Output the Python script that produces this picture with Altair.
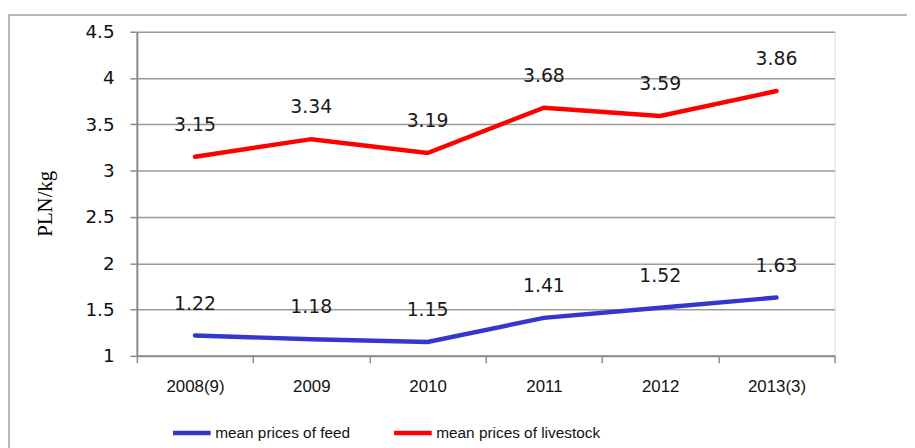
import altair as alt
import pandas as pd

years = ["2008(9)", "2009", "2010", "2011", "2012", "2013(3)"]
feed = [1.22, 1.18, 1.15, 1.41, 1.52, 1.63]
livestock = [3.15, 3.34, 3.19, 3.68, 3.59, 3.86]
series_names = ["mean prices of feed", "mean prices of livestock"]
series_colors = ["#3535cf", "#ff0000"]
y_ticks = [1, 1.5, 2, 2.5, 3, 3.5, 4, 4.5]

rows = []
for i, y in enumerate(years):
    rows.append({"year": y, "series": series_names[0], "value": feed[i], "order": i})
    rows.append({"year": y, "series": series_names[1], "value": livestock[i], "order": i})
df = pd.DataFrame(rows)

FONT = "Liberation Sans"
FONT2 = "DejaVu Sans"

x_enc = alt.X("year:N", sort=years, title=None,
              scale=alt.Scale(paddingInner=0, paddingOuter=0),
              axis=alt.Axis(tickBand="extent", labelAngle=0, labelFont=FONT, labelFontSize=17,
                            labelColor="#111", labelPadding=16, domainColor="#8c8c8c",
                            domainWidth=2, tickColor="#8c8c8c", tickWidth=1.5, tickSize=7,
                            grid=False))
y_enc = alt.Y("value:Q", title="PLN/kg",
              scale=alt.Scale(domain=[1, 4.5], nice=False, zero=False),
              axis=alt.Axis(values=y_ticks, format=".1~f", labelFont=FONT2, labelFontSize=18.5,
                            labelColor="#111", labelPadding=16, domainColor="#8c8c8c",
                            domainWidth=2, tickColor="#8c8c8c", tickWidth=1.5, tickSize=7,
                            grid=True, gridColor="#9a9a9a", gridWidth=1.5,
                            titleFont="Liberation Serif", titleFontSize=21, titleFontWeight="normal",
                            titleColor="#000", titleAngle=-90, titleX=-92, titleY=173,
                            titleBaseline="middle", titleAlign="center"))

color_enc = alt.Color("series:N",
                      scale=alt.Scale(domain=series_names, range=series_colors),
                      legend=alt.Legend(title=None, orient="none", direction="horizontal",
                                        legendX=34, legendY=383, symbolType="stroke",
                                        symbolSize=1444, symbolStrokeWidth=4.5,
                                        labelFont=FONT, labelFontSize=15.5, labelColor="#111",
                                        labelOffset=2, labelLimit=400, columnPadding=34))

base = alt.Chart(df)

lines = base.mark_line(strokeWidth=4.5, strokeCap="round").encode(
    x=x_enc, y=y_enc, color=color_enc, order="order:Q")

labels = base.mark_text(dy=-32, baseline="middle", font=FONT2, fontSize=19, color="#1a1a1a").encode(
    x=alt.X("year:N", sort=years), y="value:Q", text=alt.Text("value:Q", format=".2f"))

frame = alt.Chart(pd.DataFrame({"a": [0]})).mark_rect(
    fill=None, stroke="#a0a0a0", strokeWidth=1.5).encode(
    x=alt.value(-129), x2=alt.value(900), y=alt.value(-17), y2=alt.value(600))

chart = alt.layer(frame, lines, labels).properties(
    width=704, height=327,
    autosize=alt.AutoSizeParams(type="none"),
    padding={"left": 130, "top": 22, "right": 73, "bottom": 91},
).configure_view(stroke=None).configure(background="white")

chart.save("out.html", embed_options={"renderer": "svg", "actions": False})
